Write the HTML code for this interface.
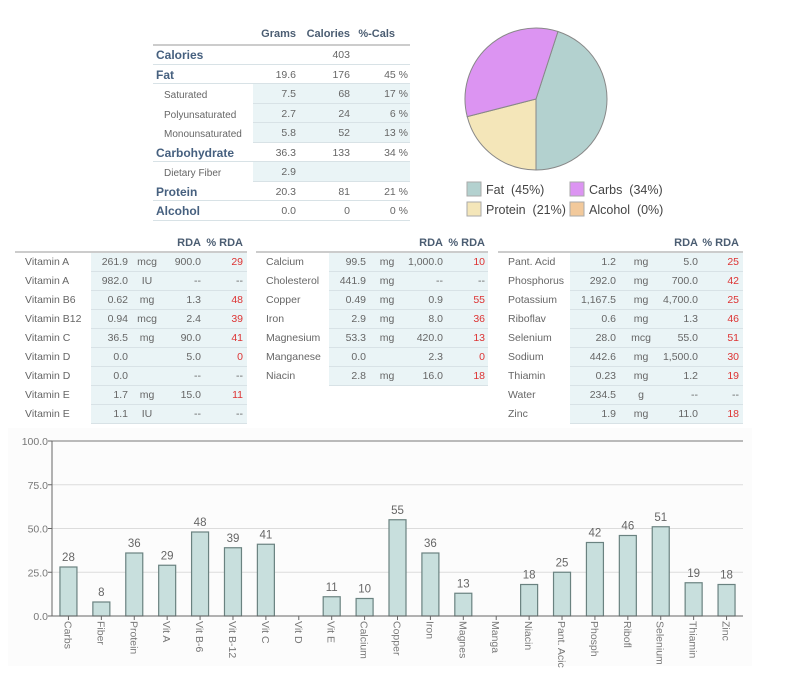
<!DOCTYPE html>
<html><head><meta charset="utf-8"><style>
body{margin:0;width:786px;height:694px;background:#fff;position:relative;overflow:hidden;font-family:"Liberation Sans",sans-serif;color:#555;}
.a{position:absolute;white-space:nowrap;line-height:14px;}
.r{text-align:right}
.c{text-align:center}
.h{font-weight:bold;color:#4b5d72;font-size:11px}
.lb{font-weight:bold;color:#46607f;font-size:12px}
.sl{font-size:10px;color:#666;margin-top:2px}
.v{font-size:10.5px;color:#666}
.red{color:#d33}
.bg{position:absolute;background:#eaf4f6}
.ln{position:absolute;height:1px;background:#d8e2e6}
.hl{position:absolute;height:2px;background:#ccc}
</style></head><body>
<div id="root"></div>
<svg id="pie" width="786" height="230" style="position:absolute;left:0;top:0"></svg>
<svg id="bar" width="786" height="694" style="position:absolute;left:0;top:0"></svg>
<script>
// ---------- data ----------
const macroRows=[["Calories","","403","",0],["Fat","19.6","176","45 %",0],["Saturated","7.5","68","17 %",1],["Polyunsaturated","2.7","24","6 %",1],["Monounsaturated","5.8","52","13 %",1],["Carbohydrate","36.3","133","34 %",0],["Dietary Fiber","2.9","","",1],["Protein","20.3","81","21 %",0],["Alcohol","0.0","0","0 %",0]];
const t1=[["Vitamin A","261.9","mcg","900.0","29"],["Vitamin A","982.0","IU","--","--"],["Vitamin B6","0.62","mg","1.3","48"],["Vitamin B12","0.94","mcg","2.4","39"],["Vitamin C","36.5","mg","90.0","41"],["Vitamin D","0.0","","5.0","0"],["Vitamin D","0.0","","--","--"],["Vitamin E","1.7","mg","15.0","11"],["Vitamin E","1.1","IU","--","--"]];
const t2=[["Calcium","99.5","mg","1,000.0","10"],["Cholesterol","441.9","mg","--","--"],["Copper","0.49","mg","0.9","55"],["Iron","2.9","mg","8.0","36"],["Magnesium","53.3","mg","420.0","13"],["Manganese","0.0","","2.3","0"],["Niacin","2.8","mg","16.0","18"]];
const t3=[["Pant. Acid","1.2","mg","5.0","25"],["Phosphorus","292.0","mg","700.0","42"],["Potassium","1,167.5","mg","4,700.0","25"],["Riboflav","0.6","mg","1.3","46"],["Selenium","28.0","mcg","55.0","51"],["Sodium","442.6","mg","1,500.0","30"],["Thiamin","0.23","mg","1.2","19"],["Water","234.5","g","--","--"],["Zinc","1.9","mg","11.0","18"]];
const pieLabels=["Fat","Protein","Carbs","Alcohol"];
const pieValues=[45,21,34,0];
const categories=["Carbs","Fiber","Protein","Vit A","Vit B-6","Vit B-12","Vit C","Vit D","Vit E","Calcium","Copper","Iron","Magnes","Manga","Niacin","Pant. Acic","Phosph","Ribofl","Selenium","Thiamin","Zinc"];
const values=[28,8,36,29,48,39,41,0,11,10,55,36,13,0,18,25,42,46,51,19,18];
const yTicks=[0,25,50,75,100];
const yTickLabels=["0.0","25.0","50.0","75.0","100.0"];

const root=document.getElementById('root');
function div(cls,x,y,w,txt){const d=document.createElement('div');d.className=cls;d.style.left=x+'px';d.style.top=y+'px';if(w)d.style.width=w+'px';if(txt!==undefined)d.textContent=txt;root.appendChild(d);return d;}

// ---------- top macro table ----------
let h;
h=div('a h r',240,27,56,'Grams');
h=div('a h r',290,27,60,'Calories');
h=div('a h r',350,27,45,'%-Cals');
h=div('hl',153,44,257);
macroRows.forEach((r,i)=>{
  const y=48+i*19.5;
  if(r[4]){const b=div('bg',253,y-3,157);b.style.height='19px';}
  div('ln',r[4]?253:153,y+15.5,r[4]?157:257);
  const l=div('a '+(r[4]?'sl':'lb'),r[4]?164:156,y,0,r[0]);
  
  
  div('a v r',240,y,56,r[1]);div('a v r',290,y,60,r[2]);div('a v r',340,y,68,r[3]);
});

// ---------- lower tables ----------
function tbl(rows,x0,x1,lab,amt,unit,rda,pct,bgx,name){
  let e=div('a h r',rda-50,236,50,'RDA');
  e=div('a h r',pct-50,236,50,'% RDA');
  div('hl',x0,251,x1-x0);
  rows.forEach((r,i)=>{
    const y=255+i*19;
    const b=div('bg',bgx,y-2,x1-bgx);b.style.height='18px';
    div('ln',bgx,y+16,x1-bgx);
    const l=div('a v',lab,y,0,r[0]);
    
    
    div('a v r',amt-60,y,60,r[1]);div('a v c',unit-20,y,40,r[2]);div('a v r',rda-60,y,60,r[3]);
    div('a v r'+(r[4]!=='--'?' red':''),pct-40,y,40,r[4]);
  });
}
tbl(t1,15,247,25,128,147,201,243,91,'vitamins');
tbl(t2,256,488,266,366,387,443,485,329,'minerals');
tbl(t3,498,743,508,616,641,698,739,570,'minerals2');

// ---------- pie ----------
const NS='http://www.w3.org/2000/svg';
const pie=document.getElementById('pie');
const pieColors=["#b3d1cf","#f4e6b9","#dc94f2","#f2c99b"];
const cx=536,cy=99,R=71;
let ang=18*Math.PI/180;const tot=pieValues.reduce((a,b)=>a+b,0);
pieValues.forEach((v,i)=>{
  if(v<=0)return;
  const a2=ang+v/tot*2*Math.PI;
  const p=document.createElementNS(NS,'path');
  const x1=cx+R*Math.sin(ang),y1=cy-R*Math.cos(ang),x2=cx+R*Math.sin(a2),y2=cy-R*Math.cos(a2);
  p.setAttribute('d',`M${cx},${cy}L${x1},${y1}A${R},${R} 0 ${a2-ang>Math.PI?1:0} 1 ${x2},${y2}Z`);
  p.setAttribute('fill',pieColors[i]);p.setAttribute('stroke','#888');p.setAttribute('stroke-width','1');
  
  
  pie.appendChild(p);ang=a2;
});
const legPos=[[467,182],[467,202],[570,182],[570,202]];
pieLabels.forEach((l,i)=>{
  const [x,y]=legPos[i];
  const r=document.createElementNS(NS,'rect');
  r.setAttribute('x',x);r.setAttribute('y',y);r.setAttribute('width',14);r.setAttribute('height',14);
  r.setAttribute('fill',pieColors[i]);r.setAttribute('stroke','#aaa');
  
  
  pie.appendChild(r);
  const t=document.createElementNS(NS,'text');
  t.setAttribute('x',x+19);t.setAttribute('y',y+12);t.setAttribute('font-size','12.5');t.setAttribute('fill','#444');
  t.setAttribute('font-family','Liberation Sans, sans-serif');
  t.textContent=l+'  ('+pieValues[i]+'%)';t.style.whiteSpace='pre';
  
  
  pie.appendChild(t);
});

// ---------- bar chart ----------
const svg=document.getElementById('bar');
const X0=52,X1=743,Y0=616,Y1=441;
const band=(X1-X0)/categories.length;
const yS=v=>Y0-(v/100)*(Y0-Y1);
const xS=i=>X0+(i+0.5)*band;
function el(tag,attrs){const e=document.createElementNS(NS,tag);for(const k in attrs)e.setAttribute(k,attrs[k]);svg.appendChild(e);return e;}
let bgR=el('rect',{x:8,y:428,width:744,height:238,fill:'#fcfcfc'});


yTicks.forEach((t,i)=>{
  const g=el('line',{x1:X0,x2:X1,y1:yS(t),y2:yS(t),stroke:t===100?'#777':'#dcdcdc','stroke-width':1});
  
  
  el('line',{x1:X0-4,x2:X0,y1:yS(t),y2:yS(t),stroke:'#666'});
  const tx=el('text',{x:X0-4,y:yS(t)+4,'text-anchor':'end','font-size':10.5,fill:'#777','font-family':'Liberation Sans, sans-serif'});
  tx.textContent=yTickLabels[i];
  
  
});
values.forEach((v,i)=>{
  const x=xS(i);
  if(v>0){
    const b=el('rect',{x:x-8.5,y:yS(v),width:17,height:Y0-yS(v),fill:'#c8dfdd',stroke:'#6a8280','stroke-width':1.2});
    
    
    const vl=el('text',{x:x,y:yS(v)-6,'text-anchor':'middle','font-size':11.5,fill:'#666','font-family':'Liberation Sans, sans-serif'});
    vl.textContent=v;
    
    
  }
  el('line',{x1:x,x2:x,y1:Y0,y2:Y0+4,stroke:'#666'});
  const xl=el('text',{x:0,y:0,'font-size':10.5,fill:'#777','font-family':'Liberation Sans, sans-serif',transform:`translate(${x-4},${Y0+5}) rotate(90)`});
  xl.textContent=categories[i];
  
  
});
let ax=el('line',{x1:X0,x2:X0,y1:Y1,y2:Y0,stroke:'#666'});


ax=el('line',{x1:X0,x2:X1,y1:Y0,y2:Y0,stroke:'#666'});


</script>
</body></html>
